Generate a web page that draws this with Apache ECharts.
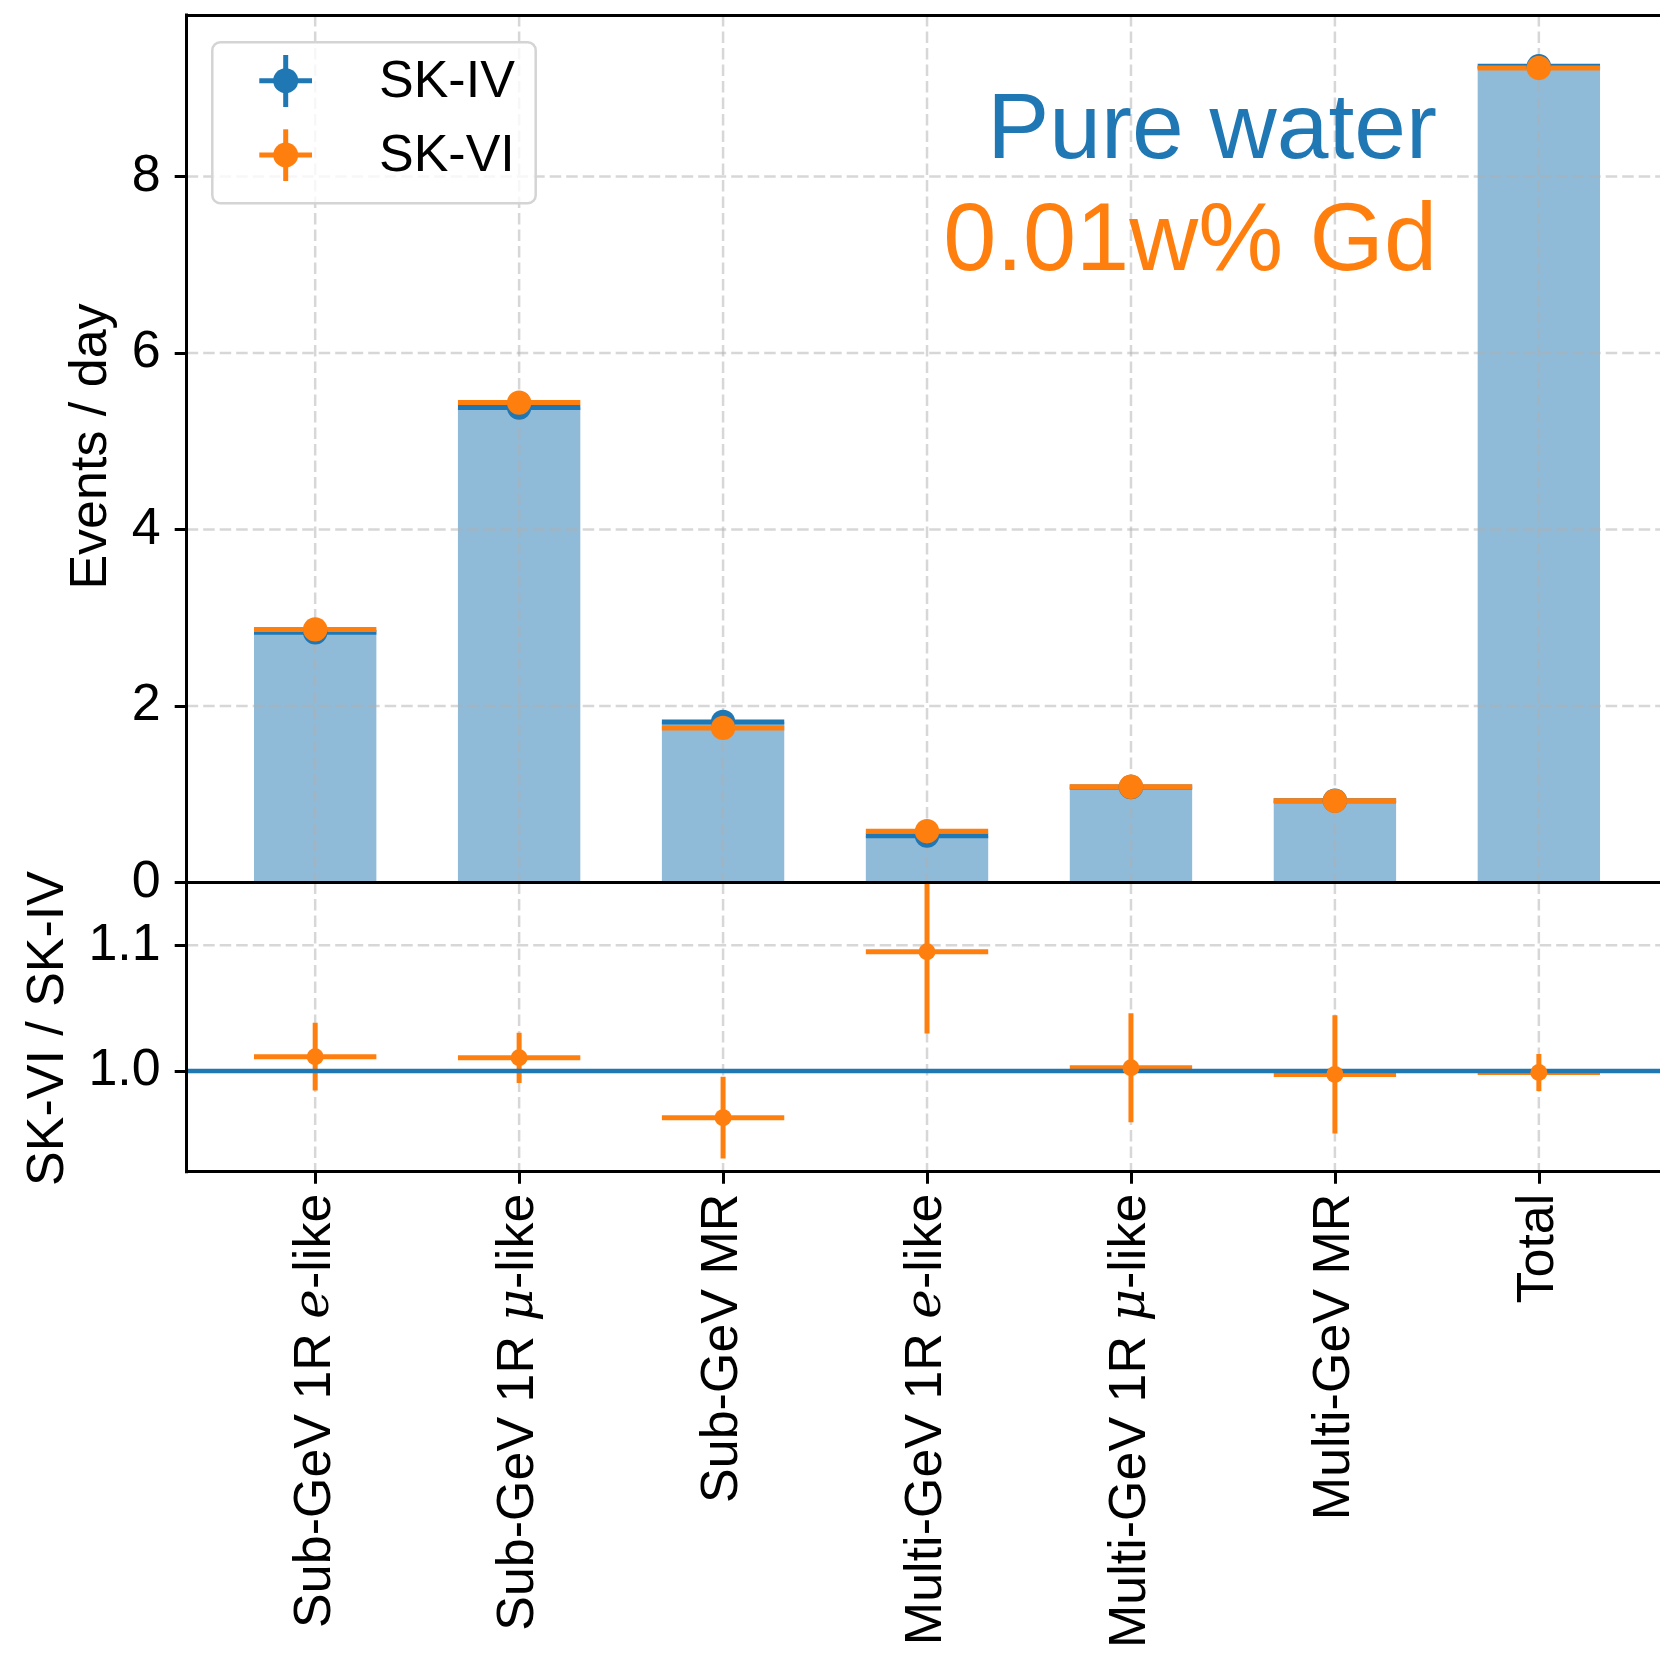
<!DOCTYPE html>
<html><head><meta charset="utf-8">
<script src="https://cdn.jsdelivr.net/npm/echarts@6/dist/echarts.min.js"></script>
<style>html,body{margin:0;padding:0;background:#fff}#c{width:1660px;height:1654px}</style>
</head><body><div id="c"></div>
<script>
// ---- data ----
const categories = ['Sub-GeV 1R e-like', 'Sub-GeV 1R μ-like', 'Sub-GeV MR', 'Multi-GeV 1R e-like', 'Multi-GeV 1R μ-like', 'Multi-GeV MR', 'Total'];
const skIV = [2.835, 5.382, 1.820, 0.531, 1.082, 0.927, 9.249];
const skVI = [2.868, 5.438, 1.752, 0.581, 1.085, 0.925, 9.230];
const ratio = [1.0115, 1.0106, 0.963, 1.095, 1.0027, 0.9974, 0.9989];
const ratioErr = [0.027, 0.020, 0.0326, 0.065, 0.0434, 0.047, 0.0148];
const eventTicks = [0, 2, 4, 6, 8];
const ratioTicks = [1.0, 1.1];
const refRatio = [1.0];

const BLUE = '#1f77b4', ORANGE = '#ff7f0e';
const FONT = '"Liberation Sans", Arial, Helvetica, sans-serif';
const HALF = 0.3;
const X_MIN = -0.63, X_MAX = 6.594;
const catIdx = categories.map((_, i) => i);
const GRID_STYLE = { stroke: 'rgba(176,176,176,0.5)', lineWidth: 2.5, lineDash: [11.5, 5] };

const chart = echarts.init(document.getElementById('c'), null, { renderer: 'canvas' });

function vGrid(params, api) {
  const cs = params.coordSys;
  const x = api.coord([api.value(0), 0])[0];
  return { type: 'line', shape: { x1: x, y1: cs.y, x2: x, y2: cs.y + cs.height }, style: GRID_STYLE };
}
function hGrid(params, api) {
  const cs = params.coordSys;
  const y = api.coord([0, api.value(0)])[1];
  return { type: 'line', shape: { x1: cs.x, y1: y, x2: cs.x + cs.width, y2: y }, style: GRID_STYLE };
}
function barRect(params, api) {
  const i = api.value(0), v = api.value(1);
  const p0 = api.coord([i - HALF, v]), p1 = api.coord([i + HALF, 0]);
  return { type: 'rect', shape: { x: p0[0], y: p0[1], width: p1[0] - p0[0], height: p1[1] - p0[1] },
    style: { fill: 'rgba(31,119,180,0.5)' } };
}
function hLine(color) {
  return function (params, api) {
    const i = api.value(0), v = api.value(1);
    const a = api.coord([i - HALF, v]), b = api.coord([i + HALF, v]);
    return { type: 'line', shape: { x1: a[0], y1: a[1], x2: b[0], y2: b[1] }, style: { stroke: color, lineWidth: 5 } };
  };
}
function marker(color, r) {
  return function (params, api) {
    const p = api.coord([api.value(0), api.value(1)]);
    return { type: 'circle', shape: { cx: p[0], cy: p[1], r: r }, style: { fill: color } };
  };
}
function ratioErrBars(params, api) {
  const i = api.value(0), v = api.value(1), e = api.value(2);
  const t = api.coord([i, v + e]), b = api.coord([i, v - e]);
  const l = api.coord([i - HALF, v]), r = api.coord([i + HALF, v]);
  return { type: 'group', children: [
    { type: 'line', shape: { x1: t[0], y1: t[1], x2: b[0], y2: b[1] }, style: { stroke: ORANGE, lineWidth: 5 } },
    { type: 'line', shape: { x1: l[0], y1: l[1], x2: r[0], y2: r[1] }, style: { stroke: ORANGE, lineWidth: 5 } }
  ] };
}
function refLine(params, api) {
  const cs = params.coordSys;
  const y = api.coord([0, api.value(0)])[1];
  return { type: 'line', shape: { x1: cs.x, y1: y, x2: cs.x + cs.width, y2: y }, style: { stroke: BLUE, lineWidth: 4.5 } };
}

function custom(grid, data, render, z) {
  return { type: 'custom', coordinateSystem: 'cartesian2d', xAxisIndex: grid, yAxisIndex: grid,
    data: data, renderItem: render, z: z, clip: true, silent: true, animation: false };
}

const spine = { show: true, onZero: false, lineStyle: { color: '#000', width: 3, cap: 'square' } };
const tickStyle = { show: true, inside: false, length: 12, lineStyle: { color: '#000', width: 3 } };
const labelBase = { color: '#000', fontSize: 52, fontFamily: FONT };

const option = {
  animation: false,
  backgroundColor: '#fff',
  grid: [
    { left: 186.7, top: 15, right: 0, height: 867.5 },
    { left: 186.7, top: 882.5, right: 0, height: 289.2 }
  ],
  xAxis: [
    { type: 'value', gridIndex: 0, min: X_MIN, max: X_MAX, z: 10, axisLine: spine, axisTick: { show: false },
      axisLabel: { show: false }, splitLine: { show: false } },
    { type: 'value', gridIndex: 1, min: X_MIN, max: X_MAX, z: 10, axisLine: spine,
      axisTick: Object.assign({ customValues: catIdx }, tickStyle),
      axisLabel: Object.assign({}, labelBase, {
        customValues: catIdx, rotate: 90, margin: 22,
        formatter: v => categories[Math.round(v)].replace(/ (e|μ)-like$/, ' {i|$1}-like'),
        rich: { i: { fontFamily: '"DejaVu Serif", serif', fontStyle: 'italic', fontSize: 50, color: '#000' } }
      }),
      splitLine: { show: false } },
    { type: 'value', gridIndex: 0, position: 'top', min: X_MIN, max: X_MAX, z: 10, axisLine: spine,
      axisTick: { show: false }, axisLabel: { show: false }, splitLine: { show: false } }
  ],
  yAxis: [
    { type: 'value', gridIndex: 0, min: 0, max: 9.83, z: 10, axisLine: spine,
      axisTick: Object.assign({ customValues: eventTicks }, tickStyle),
      axisLabel: Object.assign({}, labelBase, { customValues: eventTicks, margin: 26 }),
      splitLine: { show: false } },
    { type: 'value', gridIndex: 1, min: 0.92, max: 1.15, z: 10, axisLine: spine,
      axisTick: Object.assign({ customValues: ratioTicks }, tickStyle),
      axisLabel: Object.assign({}, labelBase, { customValues: ratioTicks, margin: 26, formatter: v => v.toFixed(1) }),
      splitLine: { show: false } }
  ],
  series: [
    custom(0, skIV.map((v, i) => [i, v]), barRect, 1),
    custom(0, catIdx.map(i => [i]), vGrid, 2),
    custom(0, eventTicks.map(v => [v]), hGrid, 2),
    custom(0, skIV.map((v, i) => [i, v]), hLine(BLUE), 3),
    custom(0, skVI.map((v, i) => [i, v]), hLine(ORANGE), 4),
    custom(0, skIV.map((v, i) => [i, v]), marker(BLUE, 12.2), 5),
    custom(0, skVI.map((v, i) => [i, v]), marker(ORANGE, 12.2), 6),

    custom(1, catIdx.map(i => [i]), vGrid, 2),
    custom(1, ratioTicks.map(v => [v]), hGrid, 2),
    custom(1, ratio.map((v, i) => [i, v, ratioErr[i]]), ratioErrBars, 3),
    custom(1, refRatio.map(v => [v]), refLine, 4),
    custom(1, ratio.map((v, i) => [i, v]), marker(ORANGE, 8.5), 5)
  ],
  graphic: [
    { type: 'text', x: 91.3, y: 446.5, rotation: Math.PI / 2, z: 100,
      style: { text: 'Events / day', fontSize: 52, fontFamily: FONT, fill: '#000', align: 'center', verticalAlign: 'middle' } },
    { type: 'text', x: 48.7, y: 1028.5, rotation: Math.PI / 2, z: 100,
      style: { text: 'SK-VI / SK-IV', fontSize: 52, fontFamily: FONT, fill: '#000', align: 'center', verticalAlign: 'middle' } },
    { type: 'text', x: 1437, y: 132.5, z: 100,
      style: { text: 'Pure water', fontSize: 93, fontFamily: FONT, fill: BLUE, align: 'right', verticalAlign: 'middle' } },
    { type: 'text', x: 1437, y: 243.5, z: 100,
      style: { text: '0.01w% Gd', fontSize: 95.5, fontFamily: FONT, fill: ORANGE, align: 'right', verticalAlign: 'middle' } },
    { type: 'rect', z: 100, shape: { x: 212.3, y: 42.3, width: 323.4, height: 161, r: 8 },
      style: { fill: 'rgba(255,255,255,0.8)', stroke: '#d4d4d4', lineWidth: 2.5 } },
    { type: 'line', z: 101, shape: { x1: 259.3, y1: 80.7, x2: 312, y2: 80.7 }, style: { stroke: BLUE, lineWidth: 5 } },
    { type: 'line', z: 101, shape: { x1: 285.7, y1: 55, x2: 285.7, y2: 107 }, style: { stroke: BLUE, lineWidth: 5 } },
    { type: 'circle', z: 102, shape: { cx: 285.7, cy: 80.7, r: 12.5 }, style: { fill: BLUE } },
    { type: 'line', z: 101, shape: { x1: 259.3, y1: 155, x2: 312, y2: 155 }, style: { stroke: ORANGE, lineWidth: 5 } },
    { type: 'line', z: 101, shape: { x1: 285.7, y1: 129.3, x2: 285.7, y2: 181 }, style: { stroke: ORANGE, lineWidth: 5 } },
    { type: 'circle', z: 102, shape: { cx: 285.7, cy: 155, r: 12.5 }, style: { fill: ORANGE } },
    { type: 'text', x: 379, y: 82.5, z: 102,
      style: { text: 'SK-IV', fontSize: 52, fontFamily: FONT, fill: '#000', align: 'left', verticalAlign: 'middle' } },
    { type: 'text', x: 379, y: 156.5, z: 102,
      style: { text: 'SK-VI', fontSize: 52, fontFamily: FONT, fill: '#000', align: 'left', verticalAlign: 'middle' } }
  ]
};
chart.setOption(option);
</script>
</body></html>
